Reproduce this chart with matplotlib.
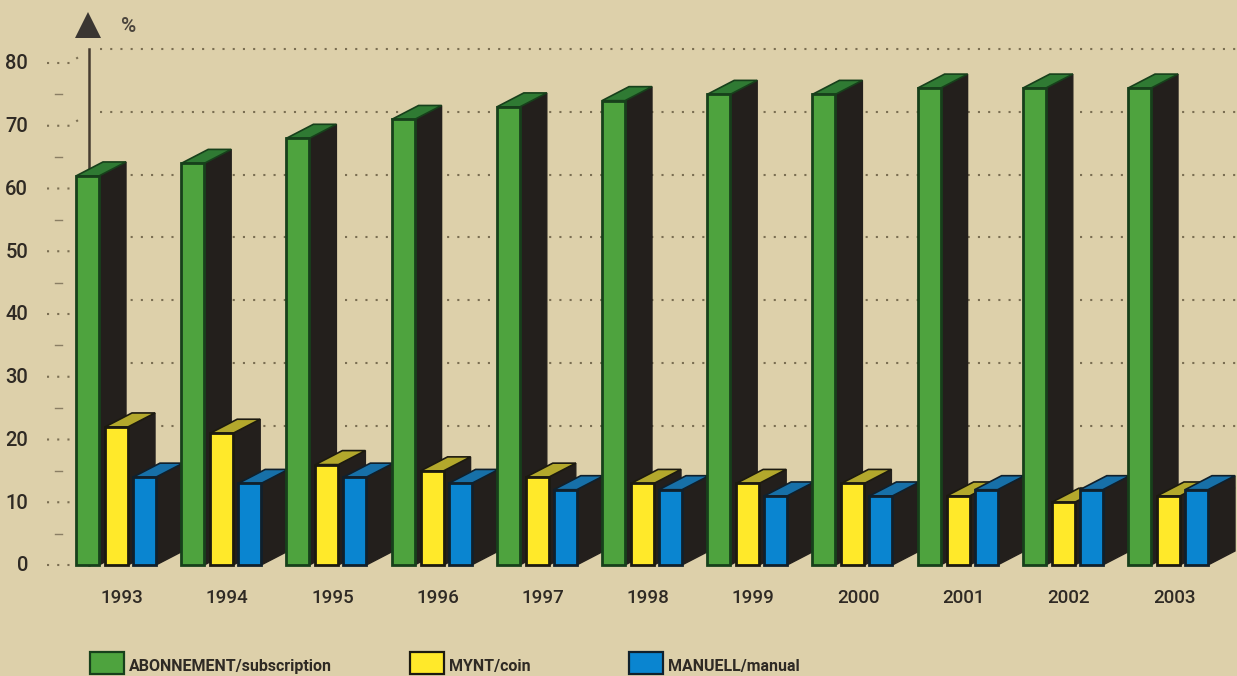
import matplotlib
matplotlib.use("Agg")
import matplotlib.pyplot as plt
from matplotlib.patches import Polygon, Rectangle

years = [1993, 1994, 1995, 1996, 1997, 1998, 1999, 2000, 2001, 2002, 2003]
subscription = [62, 64, 68, 71, 73, 74, 75, 75, 76, 76, 76]
coin = [22, 21, 16, 15, 14, 13, 13, 13, 11, 10, 11]
manual = [14, 13, 14, 13, 12, 12, 11, 11, 12, 12, 12]
y_ticks = [0, 10, 20, 30, 40, 50, 60, 70, 80]
legend_labels = ["ABONNEMENT/subscription", "MYNT/coin", "MANUELL/manual"]

W, H = 1237, 676
BG = "#DDD0AA"
FONT = "Roboto"
TXT = "#2f2a24"

fig = plt.figure(figsize=(W / 100, H / 100), dpi=100, facecolor=BG)
ax = fig.add_axes([0, 0, 1, 1])
ax.set_axis_off()
PX_X, PX_Y, X0, Y0 = 105.2, 6.275, 122, 565
ax.set_xlim((0 - X0) / PX_X, (W - X0) / PX_X)
ax.set_ylim((Y0 - H) / PX_Y, Y0 / PX_Y)
px = lambda x: (x - X0) / PX_X
py = lambda y: (Y0 - y) / PX_Y
DX, DY = 27 / PX_X, 14 / PX_Y
BW = 23 / PX_X
offsets = [-46 / PX_X, -17 / PX_X, 11 / PX_X]
SIDE = "#231f1c"
DOT = dict(color="#7a6e52", lw=1.5, ls=(0, (1.0, 3.9)), zorder=1)

# back-wall gridlines and left stubs
for v in y_ticks:
    if v > 0:
        ax.plot([px(100), px(W)], [v + DY, v + DY], **DOT)
    ax.plot([px(47), px(70), px(84)], [v, v, v + DY * 0.7 if v > 0 else v + 0.3], **DOT)
for v in range(5, 80, 10):
    ax.plot([px(55), px(62)], [v, v], color="#8a7e64", lw=1, zorder=1)

# axis and arrow
ax.plot([px(89), px(89)], [0, 80 + DY], color="#463c30", lw=1.8, zorder=1.5)
ax.add_patch(Polygon([(px(75), py(38)), (px(101), py(38)), (px(88), py(12))],
                     closed=True, fc="#3a3632", ec="none", zorder=2))
ax.text(px(129), py(26), "%", fontsize=15, family=FONT, fontweight="medium",
        color="#4a443c", ha="center", va="center")

styles = [
    (subscription, "#4EA33E", "#2F7A33", "#17401b"),
    (coin, "#FFE92A", "#B3A82C", "#1c1a10"),
    (manual, "#0A85D0", "#1770A8", "#10202c"),
]
z = 3.0
for i in range(len(years)):
    for off, (vals, face, top, edge) in zip(offsets, styles):
        v = vals[i]
        l, r = i + off, i + off + BW
        ax.add_patch(Polygon([(r, 0), (r + DX, DY), (r + DX, v + DY), (r, v)], closed=True,
                             fc=SIDE, ec=SIDE, lw=1, zorder=z))
        ax.add_patch(Polygon([(l, v), (l + DX, v + DY), (r + DX, v + DY), (r, v)], closed=True,
                             fc=top, ec=edge, lw=1.2, zorder=z + 0.01))
        ax.bar(l, v, width=BW, align="edge", color=face, edgecolor=edge, linewidth=2, zorder=z + 0.02)
        z += 0.1

for v in y_ticks:
    ax.text(px(28), v - 0.15, str(v), family=FONT, fontweight="medium", fontsize=14.5, color=TXT,
            ha="right", va="center")
for i, y in enumerate(years):
    ax.text(i, py(598), str(y), family=FONT, fontweight="medium", fontsize=13.5, color=TXT,
            ha="center", va="center")

leg_x = [90, 410, 629]
for x, lab, (_, face, _, edge) in zip(leg_x, legend_labels, styles):
    ax.add_patch(Rectangle((px(x), py(674)), 34 / PX_X, 22 / PX_Y, fc=face, ec=edge, lw=1.6, zorder=3))
    ax.text(px(x + 39), py(666), lab, family=FONT, fontweight="bold", fontsize=11.5,
            color=TXT, ha="left", va="center")

fig.savefig("out.png", dpi=100, facecolor=BG)
